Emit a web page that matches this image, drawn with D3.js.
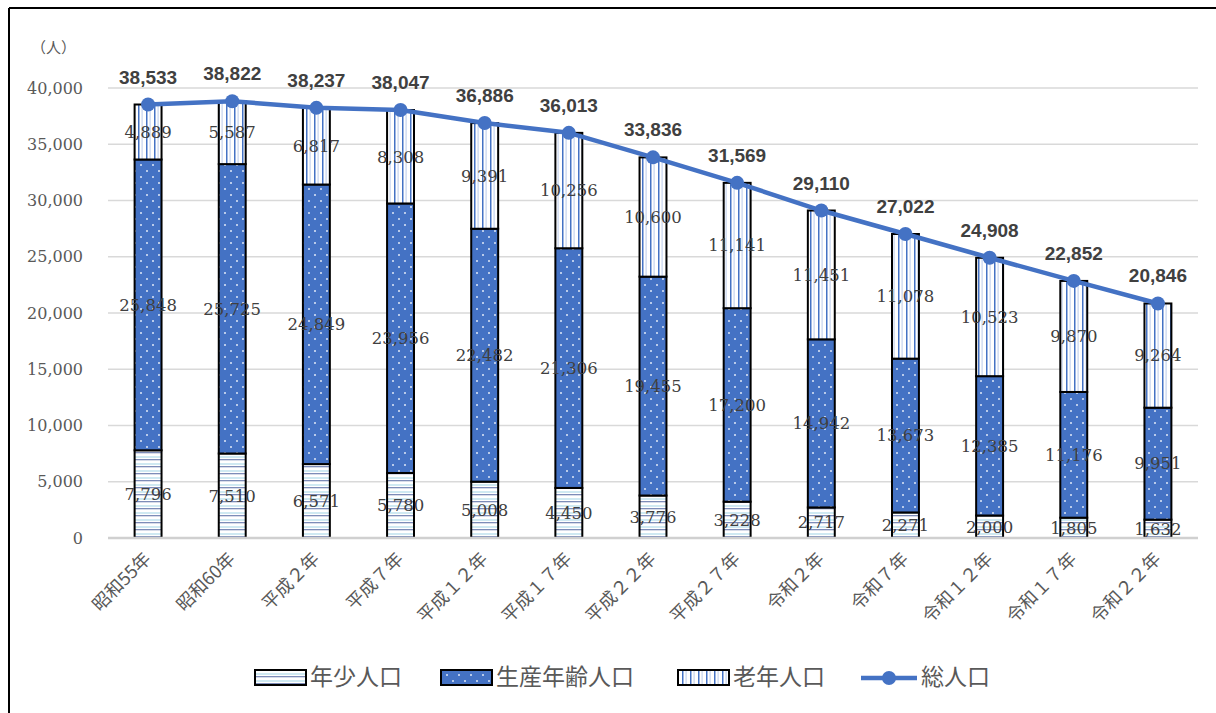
<!DOCTYPE html>
<html>
<head>
<meta charset="utf-8">
<script src="https://cdn.jsdelivr.net/npm/d3@7"></script>
<style>
  body { margin: 0; background: #fff; }
  svg { display: block; }
</style>
</head>
<body>
<svg id="output"></svg>
<script>
// 年齢3区分別人口の推移
const categories = ["昭和55年", "昭和60年", "平成２年", "平成７年", "平成１２年", "平成１７年", "平成２２年",
    "平成２７年", "令和２年", "令和７年", "令和１２年", "令和１７年", "令和２２年"];
const young = [7796, 7510, 6571, 5780, 5008, 4450, 3776, 3228, 2717, 2271, 2000, 1805, 1632];
const working = [25848, 25725, 24849, 23956, 22482, 21306, 19455, 17200, 14942, 13673, 12385, 11176, 9951];
const elderly = [4889, 5587, 6817, 8308, 9391, 10256, 10600, 11141, 11451, 11078, 10523, 9870, 9264];
const total = [38533, 38822, 38237, 38047, 36886, 36013, 33836, 31569, 29110, 27022, 24908, 22852, 20846];
const yTicks = [0, 5000, 10000, 15000, 20000, 25000, 30000, 35000, 40000];
const seriesNames = ["年少人口", "生産年齢人口", "老年人口", "総人口"];

const width = 1216, height = 713;
const blue = "#4472C4";
const serif = "'DejaVu Serif', 'Liberation Serif', 'Noto Sans CJK JP', serif";
const jp = "'Noto Sans CJK JP', sans-serif";

const svg = d3.select("#output").attr("width", width).attr("height", height);

// patterns
const defs = svg.append("defs");
const pY = defs.append("pattern").attr("id", "pYoung").attr("patternUnits", "userSpaceOnUse")
    .attr("width", 8).attr("height", 7);
pY.append("rect").attr("width", 8).attr("height", 7).attr("fill", "#fff");
pY.append("rect").attr("y", 1).attr("width", 8).attr("height", 2).attr("fill", "#cfe9f2");
pY.append("rect").attr("y", 4).attr("width", 8).attr("height", 1.3).attr("fill", "#7d8cb8");

const pW = defs.append("pattern").attr("id", "pWork").attr("patternUnits", "userSpaceOnUse")
    .attr("width", 12).attr("height", 12);
pW.append("rect").attr("width", 12).attr("height", 12).attr("fill", blue);
pW.append("circle").attr("cx", 3).attr("cy", 3).attr("r", 1).attr("fill", "#dfe8f7");
pW.append("circle").attr("cx", 9).attr("cy", 9).attr("r", 1).attr("fill", "#dfe8f7");

const pE = defs.append("pattern").attr("id", "pOld").attr("patternUnits", "userSpaceOnUse")
    .attr("width", 8).attr("height", 8);
pE.append("rect").attr("width", 8).attr("height", 8).attr("fill", "#fff");
pE.append("rect").attr("x", 2).attr("width", 1.5).attr("height", 8).attr("fill", blue);
pE.append("rect").attr("x", 5.5).attr("width", 1.2).attr("height", 8).attr("fill", "#c5d3ee");

const fills = ["url(#pYoung)", "url(#pWork)", "url(#pOld)"];

// frame lines (left and top)
svg.append("line").attr("x1", 9).attr("x2", 9).attr("y1", 8).attr("y2", height).attr("stroke", "#000").attr("stroke-width", 2);
svg.append("line").attr("x1", 9).attr("x2", width).attr("y1", 8).attr("y2", 8).attr("stroke", "#000").attr("stroke-width", 2);

const x = d3.scaleBand().domain(categories).range([106, 1200]);
const y = d3.scaleLinear().domain([0, 40000]).range([538, 88]);
const barW = x.bandwidth() * 0.32;
const cx = d => x(d) + x.bandwidth() / 2;

// grid
svg.append("g").selectAll("line").data(yTicks.slice(1)).join("line")
    .attr("x1", 108).attr("x2", 1198)
    .attr("y1", d => y(d)).attr("y2", d => y(d))
    .attr("stroke", "#d9d9d9").attr("stroke-width", 1.3);

// y axis labels
const yAxis = svg.append("g").attr("transform", "translate(89,0)")
    .call(d3.axisLeft(y).tickValues(yTicks).tickSize(0).tickPadding(6).tickFormat(d3.format(",")));
yAxis.select(".domain").remove();
yAxis.selectAll("text").attr("font-family", serif).attr("font-size", 16).attr("fill", "#595959");

svg.append("text").attr("x", 31).attr("y", 53).text("（人）")
    .attr("font-family", jp).attr("font-size", 15).attr("fill", "#595959");

// stacked bars
const rows = categories.map((c, i) => ({ cat: c, young: young[i], working: working[i], elderly: elderly[i] }));
const stack = d3.stack().keys(["young", "working", "elderly"])(rows);

const layers = svg.append("g").selectAll("g").data(stack).join("g")
    .attr("fill", (d, i) => fills[i]);
layers.selectAll("rect").data(d => d).join("rect")
    .attr("x", d => cx(d.data.cat) - barW / 2)
    .attr("width", barW)
    .attr("y", d => y(d[1]))
    .attr("height", d => y(d[0]) - y(d[1]))
    .attr("stroke", "#000").attr("stroke-width", 2);

// zero axis line
svg.append("line").attr("x1", 108).attr("x2", 1198).attr("y1", y(0)).attr("y2", y(0))
    .attr("stroke", "#d0d0d0").attr("stroke-width", 2.5);

// segment labels
const labels = svg.append("g");
stack.forEach(layer => {
    labels.selectAll(null).data(layer).join("text")
        .attr("x", d => cx(d.data.cat))
        .attr("y", d => y((d[0] + d[1]) / 2))
        .attr("dy", "0.35em")
        .attr("text-anchor", "middle")
        .attr("font-family", serif).attr("font-size", 16.5).attr("fill", "#404040")
        .text(d => d3.format(",")(d[1] - d[0]));
});

// total line
const line = d3.line().x((d, i) => cx(categories[i])).y(d => y(d));
svg.append("path").datum(total).attr("d", line)
    .attr("fill", "none").attr("stroke", blue).attr("stroke-width", 4.5).attr("stroke-linejoin", "round");
svg.append("g").selectAll("circle").data(total).join("circle")
    .attr("cx", (d, i) => cx(categories[i])).attr("cy", d => y(d)).attr("r", 7)
    .attr("fill", blue);
svg.append("g").selectAll("text").data(total).join("text")
    .attr("x", (d, i) => cx(categories[i])).attr("y", d => y(d) - 21)
    .attr("text-anchor", "middle")
    .attr("font-family", "'Liberation Sans', Arial, sans-serif").attr("font-weight", "bold")
    .attr("font-size", 19).attr("fill", "#404040")
    .text(d => d3.format(",")(d));

// x labels rotated
svg.append("g").selectAll("text").data(categories).join("text")
    .attr("transform", d => `translate(${cx(d) + 4},${560}) rotate(-45)`)
    .attr("text-anchor", "end")
    .attr("font-family", jp).attr("font-size", 18).attr("fill", "#595959")
    .text(d => d);

// legend
const legend = svg.append("g");
const legendItems = [
    { name: seriesNames[0], fill: fills[0], x: 255 },
    { name: seriesNames[1], fill: fills[1], x: 441 },
    { name: seriesNames[2], fill: fills[2], x: 678 }
];
legendItems.forEach(it => {
    legend.append("rect").attr("x", it.x).attr("y", 670).attr("width", 51).attr("height", 15)
        .attr("fill", it.fill).attr("stroke", "#000").attr("stroke-width", 2);
    legend.append("text").attr("x", it.x + 55).attr("y", 677).attr("dy", "0.35em")
        .attr("font-family", jp).attr("font-size", 23).attr("fill", "#595959").text(it.name);
});
legend.append("line").attr("x1", 861).attr("x2", 917).attr("y1", 678).attr("y2", 678)
    .attr("stroke", blue).attr("stroke-width", 4.5);
legend.append("circle").attr("cx", 889).attr("cy", 678).attr("r", 7).attr("fill", blue);
legend.append("text").attr("x", 921).attr("y", 677).attr("dy", "0.35em")
    .attr("font-family", jp).attr("font-size", 23).attr("fill", "#595959").text(seriesNames[3]);
</script>
</body>
</html>
